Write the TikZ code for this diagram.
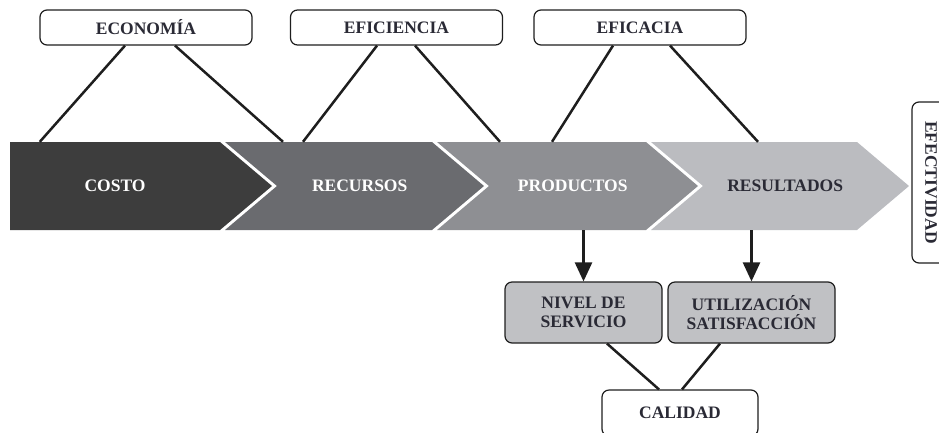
\documentclass[tikz,border=0pt]{standalone}
\usepackage{fontspec}
\setmainfont{Liberation Serif}
\usetikzlibrary{positioning,arrows.meta}
\definecolor{costoGray}{HTML}{3D3D3D}
\definecolor{recursosGray}{HTML}{6A6B6F}
\definecolor{productosGray}{HTML}{8E8F93}
\definecolor{resultadosGray}{HTML}{BBBCC0}
\definecolor{lowGray}{HTML}{C0C1C4}
\definecolor{lineDark}{HTML}{1E1E1E}
\definecolor{textDark}{HTML}{2A2A35}
\def\bigfont{\bfseries\fontsize{17.5}{19}\selectfont}
\tikzstyle{topbox}=[draw=lineDark,line width=1.2pt,rounded corners=7pt,fill=white,text=textDark,
  minimum width=212pt,minimum height=35pt,inner sep=0pt,font=\bigfont]
\tikzstyle{lowbox}=[topbox,fill=lowGray,minimum height=61pt,align=center]
\tikzstyle{chevtext}=[inner sep=0pt,minimum height=88pt,font=\bigfont]
\tikzstyle{link}=[line width=2.5pt,draw=lineDark]
% name, left x, body width, notch, fill, text colour, text
\newcommand{\newChevron}[7]{\fill[#5] (#2,142) -- ++(#3,0) -- ++(52,44) -- ++(-52,44) -- ++(-#3,0) -- ++(#4,-44) -- cycle;
  \node[chevtext,text=#6,minimum width=#3pt] (#1) at (#2+#3/2+#4*0.6,186) {#7};}

\begin{document}
\begin{tikzpicture}[x=1pt,y=-1pt,>={Triangle[length=19pt,width=17pt]}]
  \useasboundingbox (0,0) rectangle (939,432);
  \newChevron{costo}{10}{210}{0}{costoGray}{white}{COSTO}
  \newChevron{recursos}{225}{207}{52}{recursosGray}{white}{RECURSOS}
  \newChevron{productos}{437}{209}{52}{productosGray}{white}{PRODUCTOS}
  \newChevron{resultados}{651}{206}{52}{resultadosGray}{textDark}{RESULTADOS}
  \node[topbox] (economia) at (146,27.5) {ECONOMÍA};
  \node[topbox] (eficiencia) at (396.5,27.5) {EFICIENCIA};
  \node[topbox] (eficacia) at (640,27.5) {EFICACIA};
  \node[topbox,rotate=-90,minimum width=161pt,minimum height=38pt] (efectividad) at (931,182.5) {EFECTIVIDAD};
  \node[lowbox,minimum width=157pt] (nivel) at (583.5,312.5) {NIVEL DE\\SERVICIO};
  \node[lowbox,minimum width=167pt] (utilizacion) at (751.5,312.5) {UTILIZACIÓN\\SATISFACCIÓN};
  \node[topbox,minimum width=156pt,minimum height=46pt] (calidad) at (680,413) {CALIDAD};
  \draw[link] ([xshift=-21pt]economia.south) -- ([xshift=30pt]costo.north west);
  \draw[link] ([xshift=29pt]economia.south) -- ([xshift=27pt]recursos.north west);
  \draw[link] ([xshift=-19.5pt]eficiencia.south) -- ([xshift=47pt]recursos.north west);
  \draw[link] ([xshift=18.5pt]eficiencia.south) -- ([xshift=32pt]productos.north west);
  \draw[link] ([xshift=-27pt]eficacia.south) -- ([xshift=84pt]productos.north west);
  \draw[link] ([xshift=30pt]eficacia.south) -- ([xshift=76pt]resultados.north west);
  \draw[link,->] (nivel.north |- productos.south) -- (nivel.north);
  \draw[link,->] (utilizacion.north |- resultados.south) -- (utilizacion.north);
  \draw[link] ([xshift=23.5pt]nivel.south) -- ([xshift=-21pt]calidad.north);
  \draw[link] ([xshift=-31.5pt]utilizacion.south) -- ([xshift=2pt]calidad.north);
\end{tikzpicture}
\end{document}
